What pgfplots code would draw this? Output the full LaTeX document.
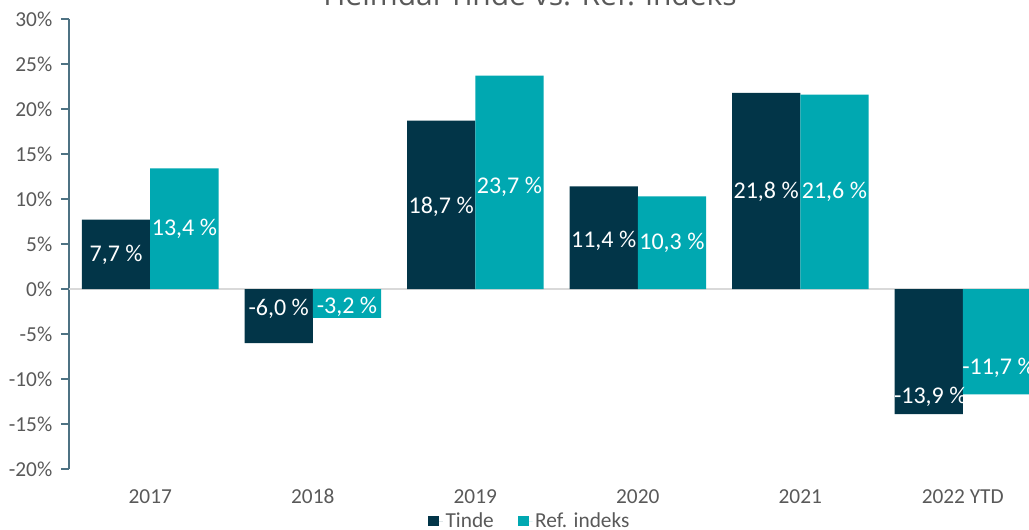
\documentclass[border=0pt]{standalone}
\usepackage{pgfplots}
\pgfplotsset{compat=1.18}
\usepackage{fontspec}
\setmainfont{Carlito}
\newfontfamily\titlefont{Open Sans}
\definecolor{tinde}{HTML}{023548}
\definecolor{refidx}{HTML}{00A8B1}
\definecolor{axiscol}{HTML}{4E7283}
\definecolor{ticktext}{HTML}{595959}
\pgfplotsset{sqleg/.style={legend image code/.code={\fill[##1] (0pt,-4pt) rectangle (8pt,4pt); \path (0pt,0pt) -- (11pt,0pt);}}}
\begin{document}
\begin{tikzpicture}
\useasboundingbox (-51.75pt,-45pt) rectangle (720pt,351.75pt);
\clip (-51.75pt,-45pt) rectangle (720pt,351.75pt);
\begin{axis}[
  at={(0,0)}, anchor=south west,
  scale only axis, width=731.25pt, height=337.5pt,
  xmin=-0.5, xmax=5.5, ymin=-20, ymax=30,
  axis y line*=left, axis x line*=bottom,
  x axis line style={draw=none},
  y axis line style={color=axiscol, line width=0.9pt},
  xtick={0,1,2,3,4,5},
  xticklabels={2017,2018,2019,2020,2021,2022 YTD},
  xtick style={draw=none},
  xticklabel style={font=\fontsize{16}{19}\selectfont, text=ticktext, text height=1.5ex, text depth=0.25ex, yshift=-9pt},
  ytick={-20,-15,-10,-5,0,5,10,15,20,25,30},
  yticklabels={-20\%,-15\%,-10\%,-5\%,0\%,5\%,10\%,15\%,20\%,25\%,30\%},
  yticklabel style={font=\fontsize{16}{19}\selectfont, text=ticktext, xshift=-3pt},
  ytick style={color=axiscol, line width=0.9pt},
  tick align=outside, major tick length=6pt,
  extra y ticks={0}, extra y tick labels={},
  extra y tick style={grid=major, major grid style={color=black!15, line width=0.9pt}, major tick length=0pt},
  legend style={at={(0.473,-0.1156)}, anchor=center, legend columns=2, draw=none, fill=none,
    font=\fontsize{16}{19}\selectfont, text=ticktext,
    /tikz/every even column/.append style={column sep=16pt}},
]
\addplot[ybar, bar width=0.42, bar shift=-0.21, fill=tinde, draw=none, sqleg]
  coordinates {(0,7.7) (1,-6.0) (2,18.7) (3,11.4) (4,21.8) (5,-13.9)};
\addlegendentry{Tinde}
\addplot[ybar, bar width=0.42, bar shift=0.21, fill=refidx, draw=none, sqleg]
  coordinates {(0,13.4) (1,-3.2) (2,23.7) (3,10.3) (4,21.6) (5,-11.7)};
\addlegendentry{Ref. indeks}
\addplot[forget plot, draw=none, mark=none, nodes near coords, point meta=explicit symbolic,
  every node near coord/.style={anchor=center, text=white, font=\fontsize{18}{20}\selectfont, inner sep=0pt}]
  table[meta=label] {
x y label
-0.21 3.8 {7,7 \%}
0.21 6.7 {13,4 \%}
0.79 -2.2 {-6,0 \%}
1.21 -2.0 {-3,2 \%}
1.79 9.1 {18,7 \%}
2.21 11.3 {23,7 \%}
2.79 5.3 {11,4 \%}
3.21 5.1 {10,3 \%}
3.79 10.8 {21,8 \%}
4.21 10.8 {21,6 \%}
4.80 -12.0 {-13,9 \%}
5.22 -8.8 {-11,7 \%}
};
\end{axis}
\node[anchor=base, font=\titlefont\fontsize{22.5}{26}\selectfont, text=ticktext] at (345.75pt,347.25pt) {Heimdal Tinde vs. Ref. indeks};
\end{tikzpicture}
\end{document}
